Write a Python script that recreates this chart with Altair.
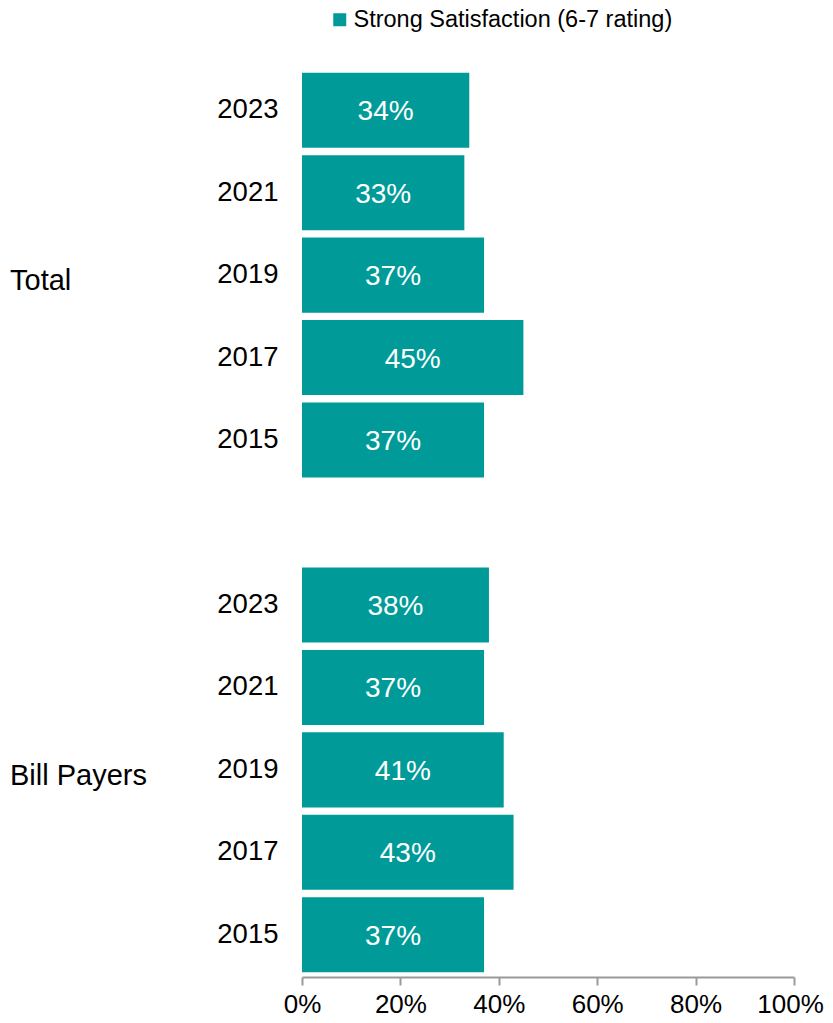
import altair as alt
import pandas as pd

groups = ["Total"] * 5 + ["Bill Payers"] * 5
years = ["2023", "2021", "2019", "2017", "2015"] * 2
values = [34, 33, 37, 45, 37, 38, 37, 41, 43, 37]
series_name = "Strong Satisfaction (6-7 rating)"
group_names = ["Total", "Bill Payers"]
x_ticks = [0, 20, 40, 60, 80, 100]

keys = [f"{g}|{y}" for g, y in zip(groups, years)]
order = keys[:5] + ["gap"] + keys[5:]

df = pd.DataFrame({"key": keys, "group": groups, "year": years,
                   "value": values, "series": series_name})
df["mid"] = df["value"] / 2
df["label"] = df["value"].astype(str) + "%"

glab = pd.DataFrame({"key": [f"{g}|2019" for g in group_names], "group": group_names})

W, H = 492, 907
TEAL = "#009B98"
FONT = "Liberation Sans"

yscale = alt.Scale(domain=order, paddingInner=0.09, paddingOuter=0.045)
xscale = alt.Scale(domain=[0, 100], nice=False)

bars = alt.Chart(df).mark_bar(color=TEAL).encode(
    y=alt.Y("key:N", scale=yscale, title=None,
            axis=alt.Axis(labelExpr="indexof(datum.value,'|')>=0 ? split(datum.value,'|')[1] : ''",
                          domain=False, ticks=False, labelPadding=24,
                          labelFontSize=27.5, labelFont=FONT, labelColor="#000")),
    x=alt.X("value:Q", scale=xscale, title=None,
            axis=alt.Axis(values=x_ticks, labelExpr="datum.value + '%'", grid=False,
                          ticks=True, tickSize=8, tickColor="#9a9a9a", tickWidth=2,
                          domainColor="#9a9a9a", domainWidth=2, offset=1,
                          labelFontSize=26, labelFont=FONT, labelColor="#000",
                          labelPadding=6, labelFlush=False, labelOverlap=False,
                          labelOffset={"condition": {"test": "datum.value === 100", "value": -4},
                                       "value": 0})),
    color=alt.Color("series:N", scale=alt.Scale(range=[TEAL]),
                    legend=alt.Legend(title=None, orient="none", legendX=26, legendY=-61,
                                      symbolType="square", symbolSize=169,
                                      symbolStrokeWidth=0, labelFontSize=23.5,
                                      labelFont=FONT, labelColor="#000", labelLimit=0,
                                      labelOffset=2, padding=0)),
)

text = alt.Chart(df).mark_text(color="white", fontSize=28, font=FONT, baseline="middle",
                               dy=2).encode(
    y=alt.Y("key:N", scale=yscale),
    x=alt.X("mid:Q", scale=xscale),
    text="label:N",
)

gtext = alt.Chart(glab).mark_text(color="#000", fontSize=29, font=FONT, align="left",
                                  baseline="middle", dy=6).encode(
    y=alt.Y("key:N", scale=yscale),
    x=alt.value(-292),
    text="group:N",
)

chart = alt.layer(bars, text, gtext).properties(
    width=W, height=H,
    autosize=alt.AutoSizeParams(type="none"),
    padding={"left": 294, "top": 61, "right": 30, "bottom": 40},
).configure_view(stroke=None)

chart.save("out.html", embed_options={"renderer": "svg", "actions": False})
